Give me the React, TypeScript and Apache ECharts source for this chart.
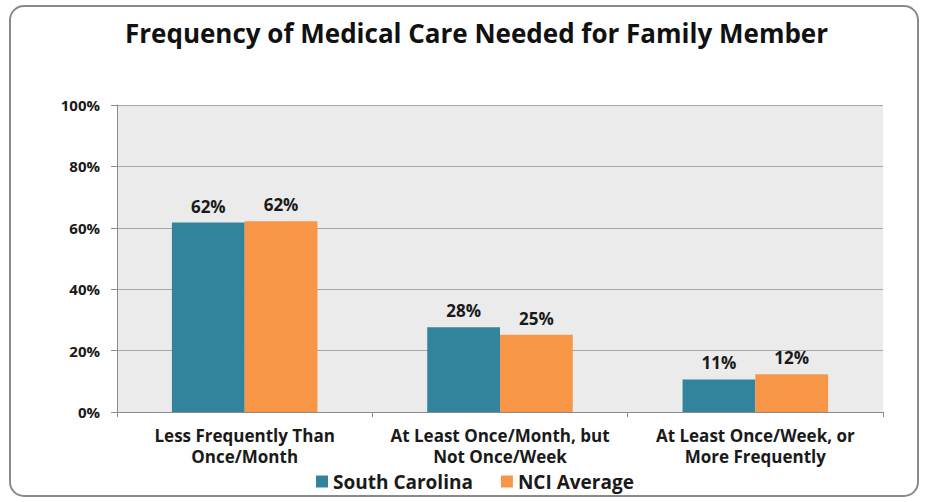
import React, { useEffect, useRef } from "react";
import * as echarts from "echarts";

const categories = [
  "Less Frequently Than\nOnce/Month",
  "At Least Once/Month, but\nNot Once/Week",
  "At Least Once/Week, or\nMore Frequently",
];
const seriesNames = ["South Carolina", "NCI Average"];
const southCarolina = [0.617, 0.276, 0.106];
const nciAverage = [0.621, 0.252, 0.123];
const yTicks = [0, 0.2, 0.4, 0.6, 0.8, 1.0];

const FONT = "Open Sans";

export default function App() {
  const ref = useRef<HTMLDivElement>(null);
  useEffect(() => {
    if (!ref.current) return;
    const chart = echarts.init(ref.current, null, { renderer: "svg" });
    const label = {
      show: true,
      position: "top",
      distance: 8,
      fontFamily: FONT,
      fontWeight: "bold",
      fontSize: 17,
      color: "#1a1a1a",
      formatter: (p: any) => Math.round(p.value * 100) + "%",
    };
    chart.setOption({
      animation: false,
      backgroundColor: "#ffffff",
      title: {
        text: "Frequency of Medical Care Needed for Family Member",
        left: 120,
        top: 15,
        textStyle: {
          fontFamily: FONT,
          fontWeight: "bold",
          fontSize: 26,
          color: "#111111",
        },
      },
      graphic: [
        {
          type: "rect",
          shape: { x: 10, y: 6, width: 908, height: 490, r: 14 },
          style: { fill: "none", stroke: "#8a8a8a", lineWidth: 2 },
          silent: true,
        },
      ],
      legend: {
        data: seriesNames,
        left: 311,
        top: 467,
        itemWidth: 12,
        itemHeight: 12,
        itemGap: 28,
        icon: "rect",
        textStyle: {
          fontFamily: FONT,
          fontWeight: "bold",
          fontSize: 19,
          color: "#1a1a1a",
        },
      },
      grid: {
        left: 117,
        right: 42,
        top: 105,
        bottom: 90,
        show: true,
        backgroundColor: "#ebebeb",
        borderWidth: 0,
      },
      xAxis: {
        type: "category",
        data: categories,
        axisLine: { lineStyle: { color: "#8c8c8c", width: 1 } },
        axisTick: { show: true, length: 5, lineStyle: { color: "#8c8c8c" } },
        axisLabel: {
          margin: 13,
          fontFamily: FONT,
          fontWeight: "bold",
          fontSize: 17,
          lineHeight: 21,
          color: "#1a1a1a",
          interval: 0,
        },
      },
      yAxis: {
        type: "value",
        min: 0,
        max: 1,
        interval: 0.2,
        axisLine: { show: true, lineStyle: { color: "#8c8c8c", width: 1 } },
        axisTick: { show: true, length: 6, lineStyle: { color: "#8c8c8c" } },
        splitLine: { lineStyle: { color: "#a6a6a6", width: 1 } },
        axisLabel: {
          margin: 17,
          fontFamily: FONT,
          fontWeight: "bold",
          fontSize: 15,
          color: "#1a1a1a",
          formatter: (v: number) =>
            yTicks.some((t) => Math.abs(t - v) < 1e-9) ? Math.round(v * 100) + "%" : "",
        },
      },
      series: [
        {
          name: seriesNames[0],
          type: "bar",
          data: southCarolina,
          barGap: "0%",
          barCategoryGap: "43%",
          itemStyle: { color: "#31849b" },
          label,
        },
        {
          name: seriesNames[1],
          type: "bar",
          data: nciAverage,
          barGap: "0%",
          barCategoryGap: "43%",
          itemStyle: { color: "#f79646" },
          label,
        },
      ],
    });
    return () => chart.dispose();
  }, []);
  return (
    <div
      ref={ref}
      style={{ position: "fixed", left: 0, top: 0, width: 925, height: 502 }}
    />
  );
}
